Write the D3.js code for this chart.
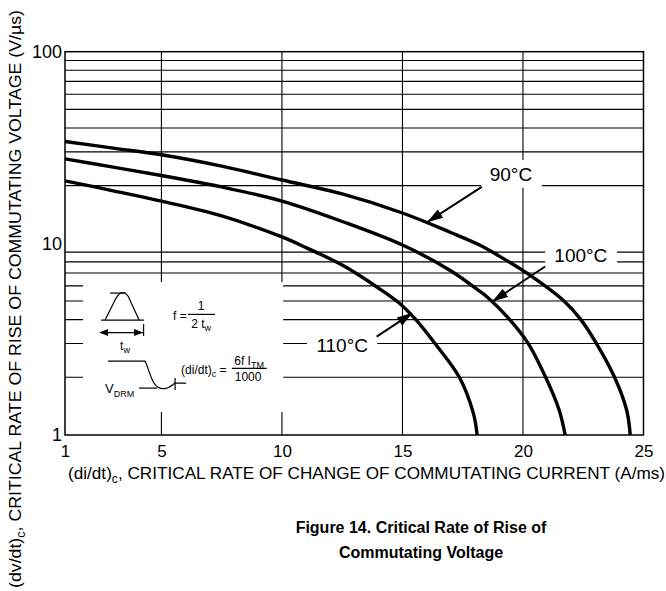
<!DOCTYPE html>
<html>
<head>
<meta charset="utf-8">
<script src="https://cdn.jsdelivr.net/npm/d3@7"></script>
<style>
  body { margin: 0; background: #fff; }
  svg text { font-family: "Liberation Sans", Arial, Helvetica, sans-serif; fill: #000; }
  .narrow { font-family: "Liberation Sans Narrow", "Arial Narrow", "Liberation Sans", Arial, sans-serif; }
</style>
</head>
<body>
<div class="canva"></div>
<script>
// valores
const xTicks = [1, 5, 10, 15, 20, 25];
const yTicks = [1, 10, 100];
const xGrid = [5, 10, 15, 20];
const yGrid = [2, 3, 4, 5, 6, 7, 8, 9, 20, 30, 40, 50, 60, 70, 80, 90];

const seriesNames = ["90°C", "100°C", "110°C"];
const t90X = [1, 3, 5, 7.5, 10, 12.5, 15, 17, 18.2, 19, 20.3, 21.7, 22.4, 23.05, 23.8, 24.3, 24.45];
const t90Y = [34, 31.4, 29, 25.3, 21.4, 18.1, 14.4, 11.4, 9.8, 8.6, 6.8, 5.0, 4.0, 3.0, 2.0, 1.35, 1.0];
const t100X = [1, 3, 5, 7.5, 10, 12.5, 15, 17, 18.1, 18.55, 19.45, 20.22, 20.94, 21.5, 21.75];
const t100Y = [27.6, 25, 22.6, 19.7, 16.6, 13.0, 9.8, 7.2, 5.75, 5.2, 4.0, 3.0, 2.0, 1.35, 1.0];
const t110X = [1, 3, 5, 7.5, 10, 11, 12.5, 14, 14.85, 15.5, 16.35, 17.36, 17.94, 18.1];
const t110Y = [21.2, 18.8, 16.6, 13.9, 10.8, 9.5, 7.7, 5.85, 4.9, 4.07, 3.0, 2.0, 1.3, 1.0];

// etiquetas con flecha, en unidades del grafico
const labelX = [19.5, 22.4, 12.5];
const labelY = [23.0, 8.64, 2.95];
const arrowFromX = [18.29, 20.92, 13.93];
const arrowFromY = [19.7, 7.57, 3.26];
const arrowToX = [16.06, 18.76, 15.39];
const arrowToY = [12.97, 5.0, 4.31];
const boxX = [[18.26, 20.79], [20.92, 23.9], [11.04, 13.95]];
const boxY = [[27.2, 19.5], [9.69, 7.45], [3.41, 2.61]];

const curves = [[t90X, t90Y], [t100X, t100Y], [t110X, t110Y]];

const svg = d3.select(".canva")
  .append("svg")
  .attr("width", 666)
  .attr("height", 591);

const x = d3.scaleLinear().domain([1, 25]).range([65, 643.5]);
const y = d3.scaleLog().domain([1, 100]).range([435, 51.7]);

// rejilla
svg.append("g").selectAll("line").data(yGrid).enter().append("line")
  .attr("x1", x(1)).attr("x2", x(25))
  .attr("y1", d => y(d)).attr("y2", d => y(d))
  .attr("stroke", "#000").attr("stroke-width", 1.1);
svg.append("g").selectAll("line").data(xGrid).enter().append("line")
  .attr("x1", d => x(d)).attr("x2", d => x(d))
  .attr("y1", y(1)).attr("y2", y(100))
  .attr("stroke", "#000").attr("stroke-width", 1.1);

// fondos blancos de las etiquetas
svg.append("g").selectAll("rect").data(boxX).enter().append("rect")
  .attr("x", d => x(d[0]))
  .attr("width", d => x(d[1]) - x(d[0]))
  .attr("y", (d, i) => y(boxY[i][0]))
  .attr("height", (d, i) => y(boxY[i][1]) - y(boxY[i][0]))
  .attr("fill", "#fff");

// recuadro del esquema
const inX0 = x(1.75), inY0 = y(6.28), inX1 = x(10.05), inY1 = y(1.318);
svg.append("rect")
  .attr("x", inX0).attr("y", inY0)
  .attr("width", inX1 - inX0).attr("height", inY1 - inY0)
  .attr("fill", "#fff");

// marco
svg.append("rect")
  .attr("x", x(1)).attr("y", y(100))
  .attr("width", x(25) - x(1)).attr("height", y(1) - y(100))
  .attr("fill", "none").attr("stroke", "#000").attr("stroke-width", 1.5);

// ejes
const xAxis = svg.append("g")
  .attr("transform", `translate(0,${y(1)})`)
  .call(d3.axisBottom(x).tickValues(xTicks).tickSize(0).tickPadding(10).tickFormat(d3.format("d")));
xAxis.select(".domain").remove();
xAxis.selectAll("text").attr("class", "narrow").style("font-size", "17px");

const yAxis = svg.append("g")
  .attr("transform", `translate(${x(1)},0)`)
  .call(d3.axisLeft(y).tickValues(yTicks).tickSize(0).tickPadding(3).tickFormat(d3.format("d")));
yAxis.select(".domain").remove();
yAxis.selectAll("text").attr("class", "narrow").style("font-size", "18px");

// curvas
const line = d3.line()
  .x(d => x(d[0]))
  .y(d => y(d[1]))
  .curve(d3.curveCatmullRom.alpha(0.5));

svg.append("g").selectAll("path").data(curves).enter().append("path")
  .attr("d", c => line(c[0].map((v, i) => [v, c[1][i]])))
  .attr("fill", "none")
  .attr("stroke", "#000")
  .attr("stroke-width", 3.4)
  .attr("stroke-linejoin", "round");

// flechas
svg.append("defs").append("marker")
  .attr("id", "head")
  .attr("viewBox", "0 -5 16 10")
  .attr("refX", 15).attr("refY", 0)
  .attr("markerUnits", "userSpaceOnUse")
  .attr("markerWidth", 16).attr("markerHeight", 10)
  .attr("orient", "auto")
  .append("path").attr("d", "M0,-5L16,0L0,5Z").attr("fill", "#000");

svg.append("g").selectAll("line").data(seriesNames).enter().append("line")
  .attr("x1", (d, i) => x(arrowFromX[i]))
  .attr("y1", (d, i) => y(arrowFromY[i]))
  .attr("x2", (d, i) => x(arrowToX[i]))
  .attr("y2", (d, i) => y(arrowToY[i]))
  .attr("stroke", "#000").attr("stroke-width", 2)
  .attr("marker-end", "url(#head)");

svg.append("g").selectAll("text").data(seriesNames).enter().append("text")
  .attr("x", (d, i) => x(labelX[i]))
  .attr("y", (d, i) => y(labelY[i]))
  .attr("dy", "0.36em")
  .attr("text-anchor", "middle")
  .style("font-size", "19px")
  .text(d => d);

// esquema dentro del recuadro
const ins = svg.append("g").attr("transform", `translate(${inX0},${inY0})`);
const st = { stroke: "#000", fill: "none", "stroke-width": 1.2 };
function p(d) {
  const e = ins.append("path").attr("d", d);
  Object.keys(st).forEach(k => e.attr(k, st[k]));
  return e;
}
p("M18,38 H61");
p("M22,38 L33,16 Q39,6 45,14 L56,38");
p("M27,11 H43");
p("M19,50.5 H60");
p("M60.5,42 V54");
ins.append("path").attr("d", "M16,50.5 L25,47 L25,54 Z").attr("fill", "#000");
ins.append("path").attr("d", "M60,50.5 L51,47 L51,54 Z").attr("fill", "#000");
ins.append("text").attr("x", 37).attr("y", 68).attr("class", "narrow").style("font-size", "12px")
  .text("t").append("tspan").attr("dy", 3).style("font-size", "9px").text("w");

p("M25,79 H62 C67,90 69,104 77,106 C83,108 87,105 92,101 H103");
p("M92,96 V108");
p("M56,106 H74");
const vd = ins.append("text").attr("x", 22).attr("y", 111).attr("class", "narrow").style("font-size", "13px").text("V");
vd.append("tspan").attr("dy", 4).style("font-size", "9px").text("DRM");

ins.append("text").attr("x", 90).attr("y", 38).attr("class", "narrow").style("font-size", "12px").text("f =");
ins.append("text").attr("x", 118).attr("y", 28).attr("text-anchor", "middle").attr("class", "narrow").style("font-size", "12px").text("1");
p("M105,32.3 H132");
const tw = ins.append("text").attr("x", 118).attr("y", 46).attr("text-anchor", "middle").attr("class", "narrow").style("font-size", "12px").text("2 t");
tw.append("tspan").attr("dy", 3).style("font-size", "9px").text("w");

const dd = ins.append("text").attr("x", 98).attr("y", 92).attr("class", "narrow").style("font-size", "12px").text("(di/dt)");
dd.append("tspan").attr("dy", 3).style("font-size", "9px").text("c");
dd.append("tspan").attr("dy", -3).text(" =");
const nu = ins.append("text").attr("x", 166).attr("y", 83).attr("text-anchor", "middle").attr("class", "narrow").style("font-size", "12px").text("6f I");
nu.append("tspan").attr("dy", 3).style("font-size", "9px").text("TM");
p("M148.7,86.3 H183.7");
ins.append("text").attr("x", 165).attr("y", 99).attr("text-anchor", "middle").attr("class", "narrow").style("font-size", "12px").text("1000");

// titulos de ejes
const xt = svg.append("text")
  .attr("x", 68).attr("y", 479)
  .style("font-size", "17px")
  .attr("textLength", 597).attr("lengthAdjust", "spacingAndGlyphs");
xt.append("tspan").text("(di/dt)");
xt.append("tspan").attr("dy", 4).style("font-size", "12px").text("c");
xt.append("tspan").attr("dy", -4).text(", CRITICAL RATE OF CHANGE OF COMMUTATING CURRENT (A/ms)");

const yt = svg.append("text")
  .attr("transform", "translate(21,588) rotate(-90)")
  .style("font-size", "17px")
  .attr("textLength", 578).attr("lengthAdjust", "spacingAndGlyphs");
yt.append("tspan").text("(dv/dt)");
yt.append("tspan").attr("dy", 4).style("font-size", "12px").text("c");
yt.append("tspan").attr("dy", -4).text(", CRITICAL RATE OF RISE OF COMMUTATING VOLTAGE (V/\u00b5s)");

// titulo de la figura
svg.append("text").attr("x", 421).attr("y", 533).attr("text-anchor", "middle")
  .style("font-size", "16px").style("font-weight", "bold")
  .text("Figure 14. Critical Rate of Rise of");
svg.append("text").attr("x", 421).attr("y", 558).attr("text-anchor", "middle")
  .style("font-size", "16px").style("font-weight", "bold")
  .text("Commutating Voltage");
</script>
</body>
</html>
